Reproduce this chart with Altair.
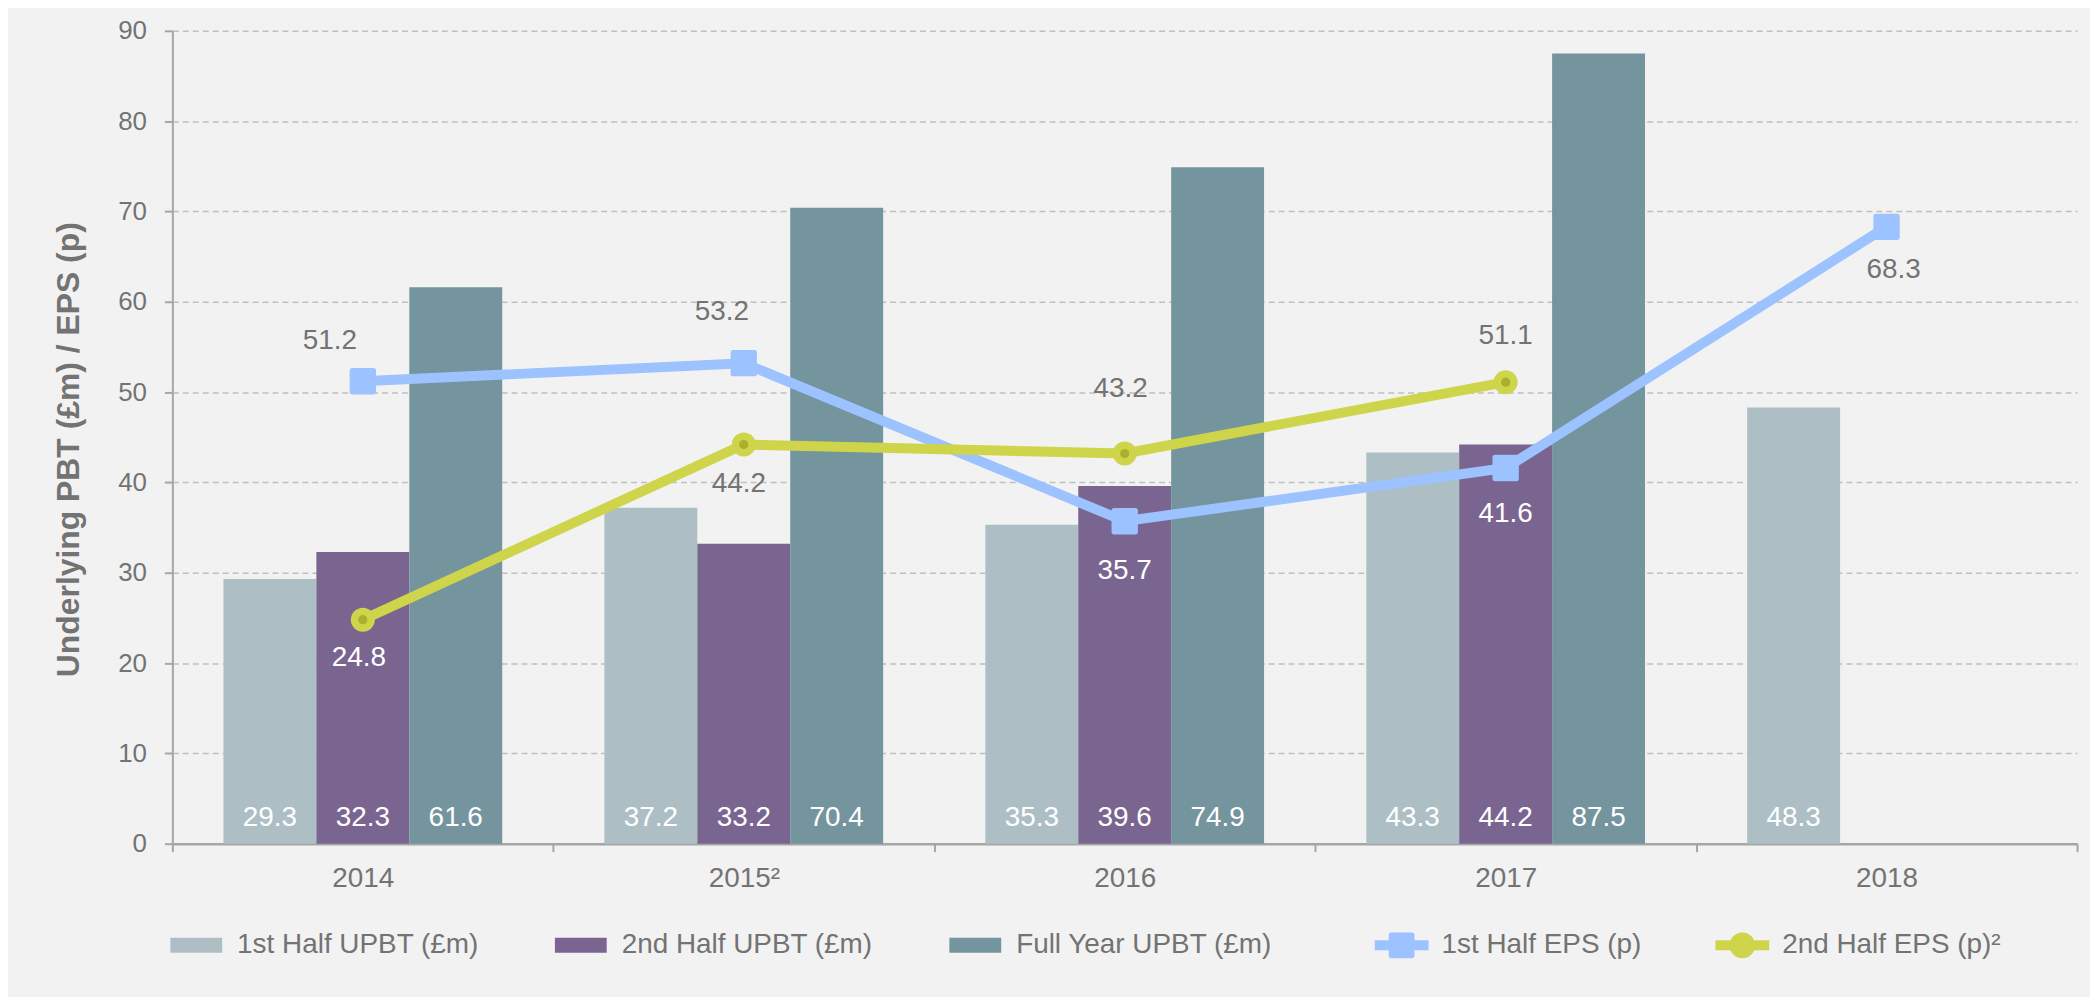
import altair as alt
import pandas as pd

# ---------------- data ----------------
years = ["2014", "2015²", "2016", "2017", "2018"]
upbt_series = ["1st Half UPBT (£m)", "2nd Half UPBT (£m)", "Full Year UPBT (£m)"]
h1_upbt = [29.3, 37.2, 35.3, 43.3, 48.3]
h2_upbt = [32.3, 33.2, 39.6, 44.2, None]
fy_upbt = [61.6, 70.4, 74.9, 87.5, None]
eps_series = ["1st Half EPS (p)", "2nd Half EPS (p)²"]
h1_eps = [51.2, 53.2, 35.7, 41.6, 68.3]
h2_eps = [24.8, 44.2, 43.2, 51.1, None]
y_ticks = [0, 10, 20, 30, 40, 50, 60, 70, 80, 90]
y_title = "Underlying PBT (£m) / EPS (p)"

# ---------------- styles ----------------
FONT = "Liberation Sans"
TEXT = "#737373"
AXIS = "#A6A6A6"
GRID = "#BFBFBF"
BG = "#F2F2F2"
bar_colors = ["#ADBFC5", "#7A6591", "#74949E"]
eps_colors = ["#9CC3FF", "#CED54A"]
DOT = "#A9B02B"

# label placement for EPS values: (series index, year index) -> (dx, dy, colour)
label_place = {
    (0, 0): (-33, -40, TEXT), (0, 1): (-22, -51, TEXT), (0, 2): (0, 50, "white"),
    (0, 3): (0, 46, "white"), (0, 4): (7, 43, TEXT),
    (1, 0): (-4, 38, "white"), (1, 1): (-5, 40, TEXT), (1, 2): (-4, -65, TEXT),
    (1, 3): (0, -46, TEXT),
}

SQ_MARK = "M-0.8,-1H0.8Q1,-1 1,-0.8V0.8Q1,1 0.8,1H-0.8Q-1,1 -1,0.8V-0.8Q-1,-1 -0.8,-1Z"
BAR_SYM = "M-1,-0.288H1V0.288H-1Z"
LEG_SQ = ("M-1,-0.185H1V0.185H-1Z M-0.38,-0.48H0.38Q0.48,-0.48 0.48,-0.38V0.38"
          "Q0.48,0.48 0.38,0.48H-0.38Q-0.48,0.48 -0.48,0.38V-0.38Q-0.48,-0.48 -0.38,-0.48Z")
LEG_CI = ("M-1,-0.185H1V0.185H-1Z M-0.48,0A0.48,0.48 0 1,1 0.48,0"
          "A0.48,0.48 0 1,1 -0.48,0Z")

bars_df = pd.DataFrame(
    [{"year": y, "series": s, "value": v, "zero": 0}
     for s, vals in zip(upbt_series, [h1_upbt, h2_upbt, fy_upbt])
     for y, v in zip(years, vals) if v is not None]
)
eps_df = pd.DataFrame(
    [{"year": y, "series": s, "value": v}
     for s, vals in zip(eps_series, [h1_eps, h2_eps])
     for y, v in zip(years, vals) if v is not None]
)

x_scale = alt.Scale(domain=years, paddingInner=0, paddingOuter=0)
y_scale = alt.Scale(domain=[0, 90], nice=False)
xoff = alt.XOffset("series:N", scale=alt.Scale(domain=upbt_series, paddingInner=0, paddingOuter=0.55))

x_axis = alt.Axis(title=None, labelAngle=0, labelFont=FONT, labelFontSize=28, labelColor=TEXT,
                  labelPadding=13, tickBand="extent", tickSize=8, tickColor=AXIS, tickWidth=2,
                  domainColor=AXIS, domainWidth=2.5, grid=False)
y_axis = alt.Axis(values=y_ticks, title=y_title, titleFont=FONT, titleFontSize=32,
                  titleFontWeight="bold", titleColor=TEXT, titlePadding=32, titleY=420,
                  labelFont=FONT, labelFontSize=26, labelColor=TEXT, labelPadding=18,
                  tickSize=8, tickColor=AXIS, tickWidth=2, domainColor=AXIS, domainWidth=2,
                  grid=True, gridColor=GRID, gridDash=[6, 4], gridWidth=1.5)

X = alt.X("year:N", scale=x_scale, axis=x_axis, sort=years)
Y = alt.Y("value:Q", scale=y_scale, axis=y_axis, title=y_title)

bar_legend = alt.Legend(title=None, orient="none", legendX=-2, legendY=892, direction="horizontal",
                        symbolType=BAR_SYM, symbolSize=2704, symbolStrokeWidth=0,
                        labelFont=FONT, labelFontSize=28, labelColor=TEXT, labelOffset=15,
                        labelLimit=400, columnPadding=76, padding=0)
eps_legend = alt.Legend(title=None, orient="none", legendX=1207, legendY=891, direction="horizontal",
                        symbolType={"expr": f"datum.value === '{eps_series[0]}' ? '{LEG_SQ}' : '{LEG_CI}'"},
                        symbolSize=2916, symbolStrokeWidth=0,
                        labelFont=FONT, labelFontSize=28, labelColor=TEXT, labelOffset=13,
                        labelLimit=400, columnPadding=74, padding=0)

bars = alt.Chart(bars_df).mark_bar().encode(
    x=X, xOffset=xoff, y=Y,
    color=alt.Color("series:N", scale=alt.Scale(domain=upbt_series, range=bar_colors), legend=bar_legend),
)

bar_labels = alt.Chart(bars_df).mark_text(
    font=FONT, fontSize=28, color="white", baseline="alphabetic", align="center", dy=-18
).encode(
    x=X, xOffset=xoff,
    y=alt.Y("zero:Q", scale=y_scale, axis=y_axis, title=y_title),
    text=alt.Text("value:Q", format=".1f"),
)

def line(idx):
    return alt.Chart(eps_df).transform_filter(alt.datum.series == eps_series[idx]).mark_line(
        strokeWidth=10, color=eps_colors[idx]
    ).encode(x=X, y=Y)

def marker(idx, shape, size):
    return alt.Chart(eps_df).transform_filter(alt.datum.series == eps_series[idx]).mark_point(
        filled=True, opacity=1, shape=shape, size=size, strokeWidth=0
    ).encode(
        x=X, y=Y,
        fill=alt.Fill("series:N", scale=alt.Scale(domain=eps_series, range=eps_colors), legend=eps_legend),
    )

dots = alt.Chart(eps_df).transform_filter(alt.datum.series == eps_series[1]).mark_point(
    filled=True, opacity=1, shape="circle", size=85, color=DOT, strokeWidth=0
).encode(x=X, y=Y)

label_layers = []
for (si, yi), (dx, dy, col) in label_place.items():
    label_layers.append(
        alt.Chart(eps_df).transform_filter(
            (alt.datum.series == eps_series[si]) & (alt.datum.year == years[yi])
        ).mark_text(font=FONT, fontSize=28, color=col, dx=dx, dy=dy, align="center", baseline="middle")
        .encode(x=X, y=Y, text=alt.Text("value:Q", format=".1f"))
    )

chart = alt.layer(
    bars, bar_labels, line(0), line(1), marker(0, SQ_MARK, 700), marker(1, "circle", 580), dots,
    *label_layers
).properties(
    width=1912, height=816,
    padding={"left": 165, "top": 21, "right": 13, "bottom": 152},
    autosize=alt.AutoSizeParams(type="none"),
    background=BG,
).configure(font=FONT).configure_view(strokeWidth=0)

chart.save("out.html", embed_options={"renderer": "svg", "actions": False})
